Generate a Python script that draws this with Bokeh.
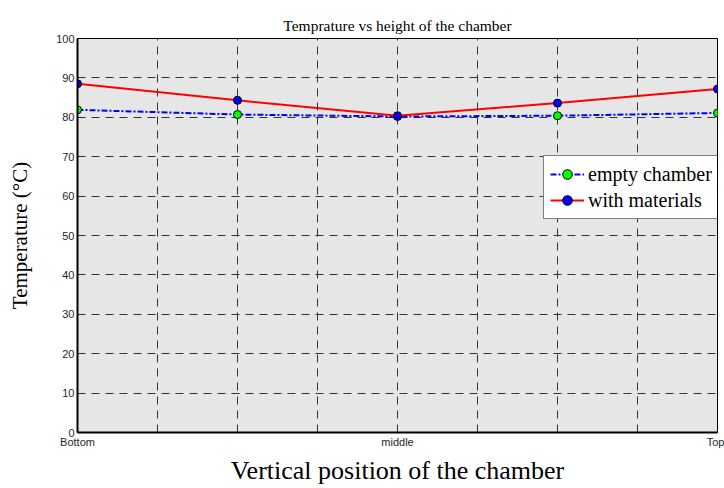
from bokeh.plotting import figure
from bokeh.models import FixedTicker, Legend, LegendItem
from bokeh.embed import file_html
from bokeh.resources import INLINE

positions = [0, 2, 4, 6, 8]
empty_chamber = [81.9, 80.7, 80.2, 80.4, 81.1]
with_materials = [88.5, 84.3, 80.4, 83.6, 87.2]
x_tick_pos = [0, 4, 8]
x_tick_labels = ["Bottom", "middle", "Top"]
y_ticks = [0, 10, 20, 30, 40, 50, 60, 70, 80, 90, 100]

p = figure(width=724, height=488, x_range=(0, 8), y_range=(0, 100),
           output_backend="svg", toolbar_location=None,
           min_border_left=77, min_border_right=7, min_border_top=38, min_border_bottom=56)

p.title.text = "Temprature vs height of the chamber"
p.title.align = "center"
p.title.text_font = "Liberation Serif"
p.title.text_font_size = "15.5px"
p.title.text_font_style = "normal"
p.title.text_color = "black"
p.title.offset = 0

p.background_fill_color = "#e6e6e6"
p.border_fill_color = "white"
p.outline_line_color = "black"
p.outline_line_width = 1

p.xaxis.ticker = FixedTicker(ticks=x_tick_pos)
p.xaxis.major_label_overrides = {pos: lab for pos, lab in zip(x_tick_pos, x_tick_labels)}
p.yaxis.ticker = FixedTicker(ticks=y_ticks)
for ax in (p.xaxis[0], p.yaxis[0]):
    ax.axis_line_color = "black"
    ax.axis_line_width = 2
    ax.major_tick_in = 0
    ax.major_tick_out = 0
    ax.minor_tick_line_color = None
    ax.major_label_text_font = "Liberation Sans"
    ax.major_label_text_font_size = "11px"
    ax.major_label_text_color = "#262626"
    ax.axis_label_text_font = "Liberation Serif"
    ax.axis_label_text_font_style = "normal"
    ax.axis_label_text_color = "black"

p.xaxis.axis_label = "Vertical position of the chamber"
p.xaxis.axis_label_text_font_size = "26px"
p.xaxis.major_label_standoff = 3
p.xaxis.axis_label_standoff = 5
p.yaxis.axis_label = "Temperature (\u00b0C)"
p.yaxis.axis_label_text_font_size = "21px"
p.yaxis.major_label_standoff = 3
p.yaxis.axis_label_standoff = 21

p.xgrid.ticker = FixedTicker(ticks=list(range(9)))
p.ygrid.ticker = FixedTicker(ticks=y_ticks)
for g in (p.xgrid[0], p.ygrid[0]):
    g.grid_line_color = "#333333"
    g.grid_line_dash = "8 6"
    g.grid_line_width = 1

l1 = p.line(positions, empty_chamber, line_color="blue", line_width=2, line_dash="6 2 2 2")
s1 = p.scatter(positions, empty_chamber, size=8, fill_color="#00ff00", line_color="black", line_width=1)
l2 = p.line(positions, with_materials, line_color="red", line_width=2)
s2 = p.scatter(positions, with_materials, size=8, fill_color="blue", line_color="black", line_width=1)

legend = Legend(items=[LegendItem(label="empty chamber", renderers=[l1, s1]),
                       LegendItem(label="with materials", renderers=[l2, s2])],
                location=(466, 213))
legend.label_text_font = "Liberation Serif"
legend.label_text_font_size = "20px"
legend.label_text_color = "black"
legend.label_height = 24
legend.glyph_height = 24
legend.border_line_color = "black"
legend.border_line_width = 1
legend.background_fill_color = "white"
legend.background_fill_alpha = 1
legend.glyph_width = 34
legend.label_standoff = 4
legend.padding = 6
legend.spacing = 2
legend.margin = 0
p.add_layout(legend, "center")

open("out.html", "w").write(file_html(p, INLINE))
